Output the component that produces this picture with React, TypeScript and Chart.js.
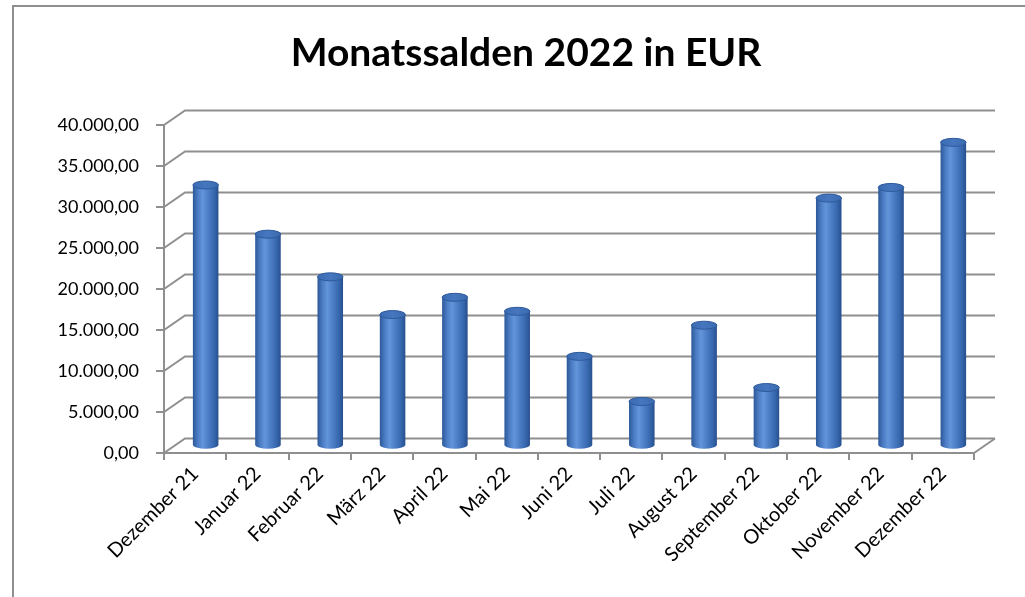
import React, { useEffect, useRef } from 'react';
import { Chart, registerables } from 'chart.js';

Chart.register(...registerables);

// ---- data ----
const categories: string[] = [
  'Dezember 21', 'Januar 22', 'Februar 22', 'März 22', 'April 22', 'Mai 22', 'Juni 22',
  'Juli 22', 'August 22', 'September 22', 'Oktober 22', 'November 22', 'Dezember 22',
];
const monthlyBalances: number[] = [
  31800, 25800, 20600, 16000, 18100, 16400, 10900, 5400, 14700, 7100, 30200, 31500, 37000,
];
const chartTitle = 'Monatssalden 2022 in EUR';
const yMin = 0;
const yMax = 40000;
const yStep = 5000;

// ---- styles ----
const DX = 21;
const DY = 14.5;
const GRID = '#8f8f8f';
const FONT = 'Lato, "Open Sans", sans-serif';

function formatDE(v: number): string {
  const neg = v < 0;
  const abs = Math.abs(v);
  const intPart = Math.floor(abs).toString().replace(/\B(?=(\d{3})+(?!\d))/g, '.');
  const dec = Math.round((abs - Math.floor(abs)) * 100).toString().padStart(2, '0');
  return (neg ? '-' : '') + intPart + ',' + dec;
}

const threeDPlugin = {
  id: 'threeD',
  beforeDraw(chart: any) {
    const ctx = chart.ctx;
    ctx.save();
    ctx.fillStyle = '#ffffff';
    ctx.fillRect(0, 0, chart.width, chart.height);
    ctx.strokeStyle = '#8f8f8f';
    ctx.lineWidth = 2;
    ctx.beginPath();
    ctx.moveTo(13, chart.height);
    ctx.lineTo(13, 6);
    ctx.lineTo(chart.width, 6);
    ctx.stroke();
    ctx.restore();
  },
  beforeDatasetsDraw(chart: any) {
    const ctx = chart.ctx;
    const { left, right, bottom } = chart.chartArea;
    const y = chart.scales.y;
    ctx.save();
    ctx.strokeStyle = GRID;
    ctx.lineWidth = 2;
    ctx.lineJoin = 'miter';
    y.ticks.forEach((t: any) => {
      const py = Math.round(y.getPixelForValue(t.value));
      ctx.beginPath();
      ctx.moveTo(left, py);
      ctx.lineTo(left + DX, py - DY);
      ctx.lineTo(right + DX, py - DY);
      ctx.stroke();
    });
    ctx.beginPath();
    ctx.moveTo(right, bottom);
    ctx.lineTo(right + DX, bottom - DY);
    ctx.stroke();
    ctx.restore();
  },
  afterDatasetsDraw(chart: any) {
    const ctx = chart.ctx;
    const meta = chart.getDatasetMeta(0);
    meta.data.forEach((el: any) => {
      const p = el.getProps(['x', 'y', 'base', 'width'], true);
      const cx = p.x + DX / 2;
      const topY = p.y - DY / 2;
      const botY = p.base - DY / 2;
      const rx = p.width / 2;
      const ry = 4;
      const g = ctx.createLinearGradient(cx - rx, 0, cx + rx, 0);
      g.addColorStop(0, '#2c5898');
      g.addColorStop(0.2, '#4c7dc5');
      g.addColorStop(0.38, '#6395da');
      g.addColorStop(0.6, '#4c7ec6');
      g.addColorStop(0.85, '#3565ab');
      g.addColorStop(1, '#284f8d');
      ctx.save();
      ctx.beginPath();
      ctx.moveTo(cx - rx, topY);
      ctx.lineTo(cx - rx, botY);
      ctx.ellipse(cx, botY, rx, ry, 0, Math.PI, 0, true);
      ctx.lineTo(cx + rx, topY);
      ctx.closePath();
      ctx.fillStyle = g;
      ctx.fill();
      ctx.beginPath();
      ctx.ellipse(cx, topY, rx, ry, 0, 0, Math.PI * 2);
      const tg = ctx.createLinearGradient(cx - rx, 0, cx + rx, 0);
      tg.addColorStop(0, '#3b6bb2');
      tg.addColorStop(0.5, '#4677be');
      tg.addColorStop(1, '#3a69af');
      ctx.fillStyle = tg;
      ctx.fill();
      ctx.lineWidth = 1;
      ctx.strokeStyle = '#2e5a9b';
      ctx.stroke();
      ctx.restore();
    });
  },
  afterDraw(chart: any) {
    const ctx = chart.ctx;
    ctx.save();
    ctx.fillStyle = '#000000';
    ctx.font = 'bold 39px ' + FONT;
    ctx.textAlign = 'center';
    ctx.textBaseline = 'alphabetic';
    ctx.fillText(chartTitle, 526, 66);
    ctx.restore();
  },
};

export default function App() {
  const ref = useRef<HTMLCanvasElement | null>(null);
  useEffect(() => {
    document.body.style.margin = '0';
    if (!ref.current) return;
    const chart = new Chart(ref.current, {
      type: 'bar',
      data: {
        labels: categories,
        datasets: [
          {
            label: chartTitle,
            data: monthlyBalances,
            backgroundColor: 'rgba(0,0,0,0)',
            borderWidth: 0,
            categoryPercentage: 1,
            barPercentage: 0.41,
          },
        ],
      },
      options: {
        animation: false,
        responsive: false,
        devicePixelRatio: 1,
        layout: { padding: { top: 125, right: 51, left: 0, bottom: 0 } },
        plugins: {
          legend: { display: false },
          title: { display: false },
          tooltip: { enabled: false },
        },
        scales: {
          x: {
            grid: {
              offset: true,
              drawOnChartArea: false,
              drawTicks: true,
              tickLength: 7,
              color: GRID,
              lineWidth: 2,
            },
            border: { display: true, color: GRID, width: 2 },
            ticks: {
              minRotation: 45,
              maxRotation: 45,
              autoSkip: false,
              padding: 2,
              color: '#000000',
              font: { family: FONT, size: 20 },
            },
            afterFit: (scale: any) => {
              scale.height = 144;
            },
          },
          y: {
            min: yMin,
            max: yMax,
            grid: {
              drawOnChartArea: false,
              drawTicks: true,
              tickLength: 8,
              color: GRID,
              lineWidth: 2,
            },
            border: { display: true, color: GRID, width: 2 },
            ticks: {
              stepSize: yStep,
              padding: 17,
              color: '#000000',
              font: { family: FONT, size: 18 },
              callback: (v: any) => formatDE(Number(v)),
            },
            afterFit: (scale: any) => {
              scale.width = 164;
            },
          },
        },
      },
      plugins: [threeDPlugin],
    });
    return () => chart.destroy();
  }, []);
  return (
    <canvas
      ref={ref}
      width={1025}
      height={597}
      style={{ display: 'block', width: '1025px', height: '597px' }}
    />
  );
}
